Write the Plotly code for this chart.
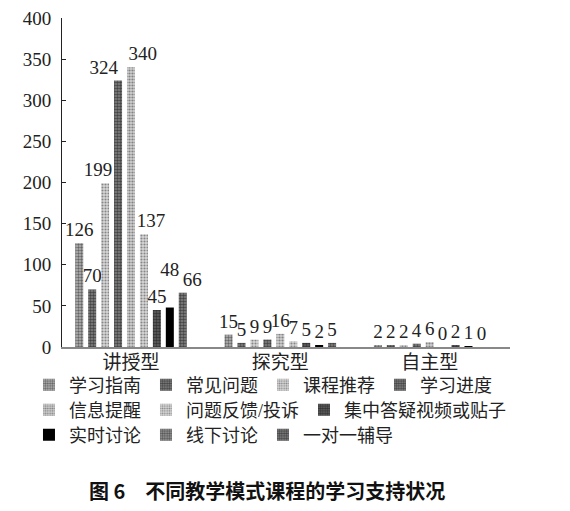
import plotly.graph_objects as go

categories = ["讲授型", "探究型", "自主型"]
series_names = ["学习指南", "常见问题", "课程推荐", "学习进度", "信息提醒",
                "问题反馈/投诉", "集中答疑视频或贴子", "实时讨论", "线下讨论", "一对一辅导"]
v_xuexi_zhinan = [126, 15, 2]
v_changjian_wenti = [70, 5, 2]
v_kecheng_tuijian = [199, 9, 2]
v_xuexi_jindu = [324, 9, 4]
v_xinxi_tixing = [340, 16, 6]
v_wenti_fankui = [137, 7, 0]
v_jizhong_dayi = [45, 5, 2]
v_shishi_taolun = [48, 2, 1]
v_xianxia_taolun = [None, None, None]
v_yidui_yi = [66, 5, 0]
values = [v_xuexi_zhinan, v_changjian_wenti, v_kecheng_tuijian, v_xuexi_jindu,
          v_xinxi_tixing, v_wenti_fankui, v_jizhong_dayi, v_shishi_taolun,
          v_xianxia_taolun, v_yidui_yi]
y_ticks = [0, 50, 100, 150, 200, 250, 300, 350, 400]

# style: (fg, bg, solidity)
styles = [
    ("#111", "#b8b8b8", 0.5),
    ("#000", "#888", 0.55),
    ("#333", "#d8d8d8", 0.4),
    ("#000", "#888", 0.55),
    ("#333", "#d0d0d0", 0.42),
    ("#333", "#d8d8d8", 0.4),
    ("#000", "#666", 0.6),
    ("#000", "#000", 0.0),
    ("#111", "#999", 0.5),
    ("#000", "#888", 0.55),
]
legend_of = ["legend"] * 4 + ["legend2"] * 3 + ["legend3"] * 3
offset_of = [str(i) for i in range(10)]
offset_of[8] = "9"  # series without bars shares the slot of the last series

# label nudges (label style only): (series index, category index) -> (nbsp before, nbsp after, raise lines)
nudges = {(2, 0): (0, 3, 0), (3, 0): (0, 6, 0), (4, 0): (5, 0, 0),
          (5, 0): (3, 0, 0), (7, 0): (0, 0, 1), (9, 0): (4, 0, 0)}
NB = "\u00a0"


def label(v, si, ci):
    if v is None:
        return ""
    b, a, r = nudges.get((si, ci), (0, 0, 0))
    s = NB * b + str(v) + NB * a
    if r:
        s = s + "<br>" + NB
    return s


serif = "Liberation Serif, Noto Sans CJK SC, serif"
fig = go.Figure()
for i, (name, vals) in enumerate(zip(series_names, values)):
    fg, bg, sol = styles[i]
    pat = dict(shape=".", fgcolor=fg, bgcolor=bg, size=3, solidity=sol) if sol > 0 else dict(shape="")
    fig.add_trace(go.Bar(
        x=categories, y=vals, name=name,
        offsetgroup=offset_of[i],
        legend=legend_of[i],
        marker=dict(color=bg, line=dict(width=0), pattern=pat),
        text=[label(v, i, j) for j, v in enumerate(vals)],
        texttemplate="%{text}", textposition="outside", constraintext="none",
        cliponaxis=False,
        textfont=dict(family=serif, size=19, color="#222"),
    ))

leg_common = dict(orientation="h", xanchor="left", yanchor="middle",
                  font=dict(family=serif, size=18, color="#222"),
                  itemwidth=30, bgcolor="rgba(0,0,0,0)", borderwidth=0,
                  traceorder="normal")
fig.update_layout(
    width=562, height=503,
    margin=dict(l=54, r=60, t=10, b=164, autoexpand=False),
    plot_bgcolor="white", paper_bgcolor="white",
    barmode="group", bargap=0.22, bargroupgap=0.38,
    showlegend=True,
    legend=dict(x=-0.0737, y=-0.1155, **leg_common),
    legend2=dict(x=-0.0737, y=-0.1915, **leg_common),
    legend3=dict(x=-0.0737, y=-0.2675, **leg_common),
    xaxis=dict(showline=True, linecolor="#888", linewidth=2, ticks="",
               range=[-0.462, 2.538], automargin=False,
               tickfont=dict(family=serif, size=19, color="#222"),
               ticklabelstandoff=-3, showgrid=False),
    yaxis=dict(range=[0, 400], tickvals=y_ticks, showline=True, linecolor="#222",
               linewidth=1, ticks="inside", ticklen=4, tickcolor="#222",
               tickfont=dict(family=serif, size=19, color="#222"), automargin=False,
               ticklabeloverflow="allow",
               ticklabelstandoff=6, showgrid=False, zeroline=False),
    annotations=[dict(text="<b>图 6　不同教学模式课程的学习支持状况</b>",
                      xref="paper", yref="paper", x=0.4587, y=-0.4347,
                      xanchor="center", yanchor="middle", showarrow=False,
                      font=dict(family="Noto Sans CJK SC", size=20, color="#111"))],
)
fig.write_html("out.html")
